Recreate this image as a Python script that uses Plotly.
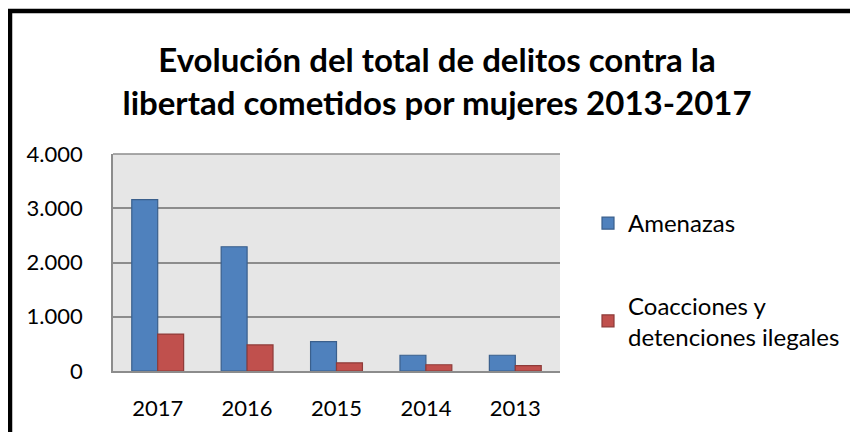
import plotly.graph_objects as go

years = ["2017", "2016", "2015", "2014", "2013"]
amenazas = [3160, 2290, 540, 290, 290]
coacciones = [680, 480, 150, 115, 100]
series_names = ["Amenazas", "Coacciones y<br>detenciones ilegales"]
title_text = "Evolución del total de delitos contra la<br>libertad cometidos por mujeres 2013-2017"
y_ticks = [0, 1000, 2000, 3000, 4000]

FONT = "Lato"
# page body adds an 8px offset; figure coords below compensate
L, T, PW, PH = 105, 146, 447, 217
W, H = 858, 432

fig = go.Figure()
fig.add_trace(go.Bar(x=years, y=amenazas, name=series_names[0],
                     marker=dict(color="#4f81bd", line=dict(color="#3a5f8c", width=1.2)),
                     legendgroup="a"))
fig.add_trace(go.Bar(x=years, y=coacciones, name=series_names[1],
                     marker=dict(color="#c0504d", line=dict(color="#8e3b39", width=1.2)),
                     legendgroup="b"))

fig.update_layout(
    width=W, height=H,
    margin=dict(l=L, r=W - L - PW, t=T, b=H - T - PH),
    paper_bgcolor="white",
    plot_bgcolor="#e6e6e6",
    separators=",.",
    barmode="group",
    bargap=0.42,
    bargroupgap=0,
    font=dict(family=FONT, size=22, color="black"),
    title=dict(text="<b>" + title_text + "</b>", x=0.5, xanchor="center",
               y=1 - 64/H, yanchor="middle",
               font=dict(family=FONT, size=33, color="black")),
    legend=dict(x=(580 - L) / PW, y=(T + PH - 193) / PH, xanchor="left", yanchor="top",
                font=dict(family=FONT, size=24), tracegroupgap=48,
                bgcolor="rgba(0,0,0,0)", itemwidth=30),
    showlegend=True,
)
fig.update_xaxes(showline=True, linecolor="#8c8c8c", linewidth=1.5,
                 ticks="", ticklabelstandoff=17, showgrid=False)
fig.update_yaxes(range=[0, 4000], tickvals=y_ticks, tickformat=",d",
                 showgrid=True, gridcolor="#8c8c8c", gridwidth=1.5,
                 showline=True, linecolor="#8c8c8c", linewidth=1.5,
                 ticks="", ticklabelstandoff=24, zeroline=False)

# outer chart border (only left and top edges fall inside the canvas)
fig.add_shape(type="rect", xref="paper", yref="paper",
              x0=(2 - L) / PW, x1=(W + 40 - L) / PW,
              y0=-(H + 40 - T - PH) / PH, y1=1 + (T - 3) / PH,
              line=dict(color="black", width=4.5), fillcolor="rgba(0,0,0,0)", layer="above")
# top line of plot area
fig.add_shape(type="line", xref="paper", yref="paper", x0=0, x1=1, y0=1, y1=1,
              line=dict(color="#8c8c8c", width=1.5))

fig.write_html("out.html")
